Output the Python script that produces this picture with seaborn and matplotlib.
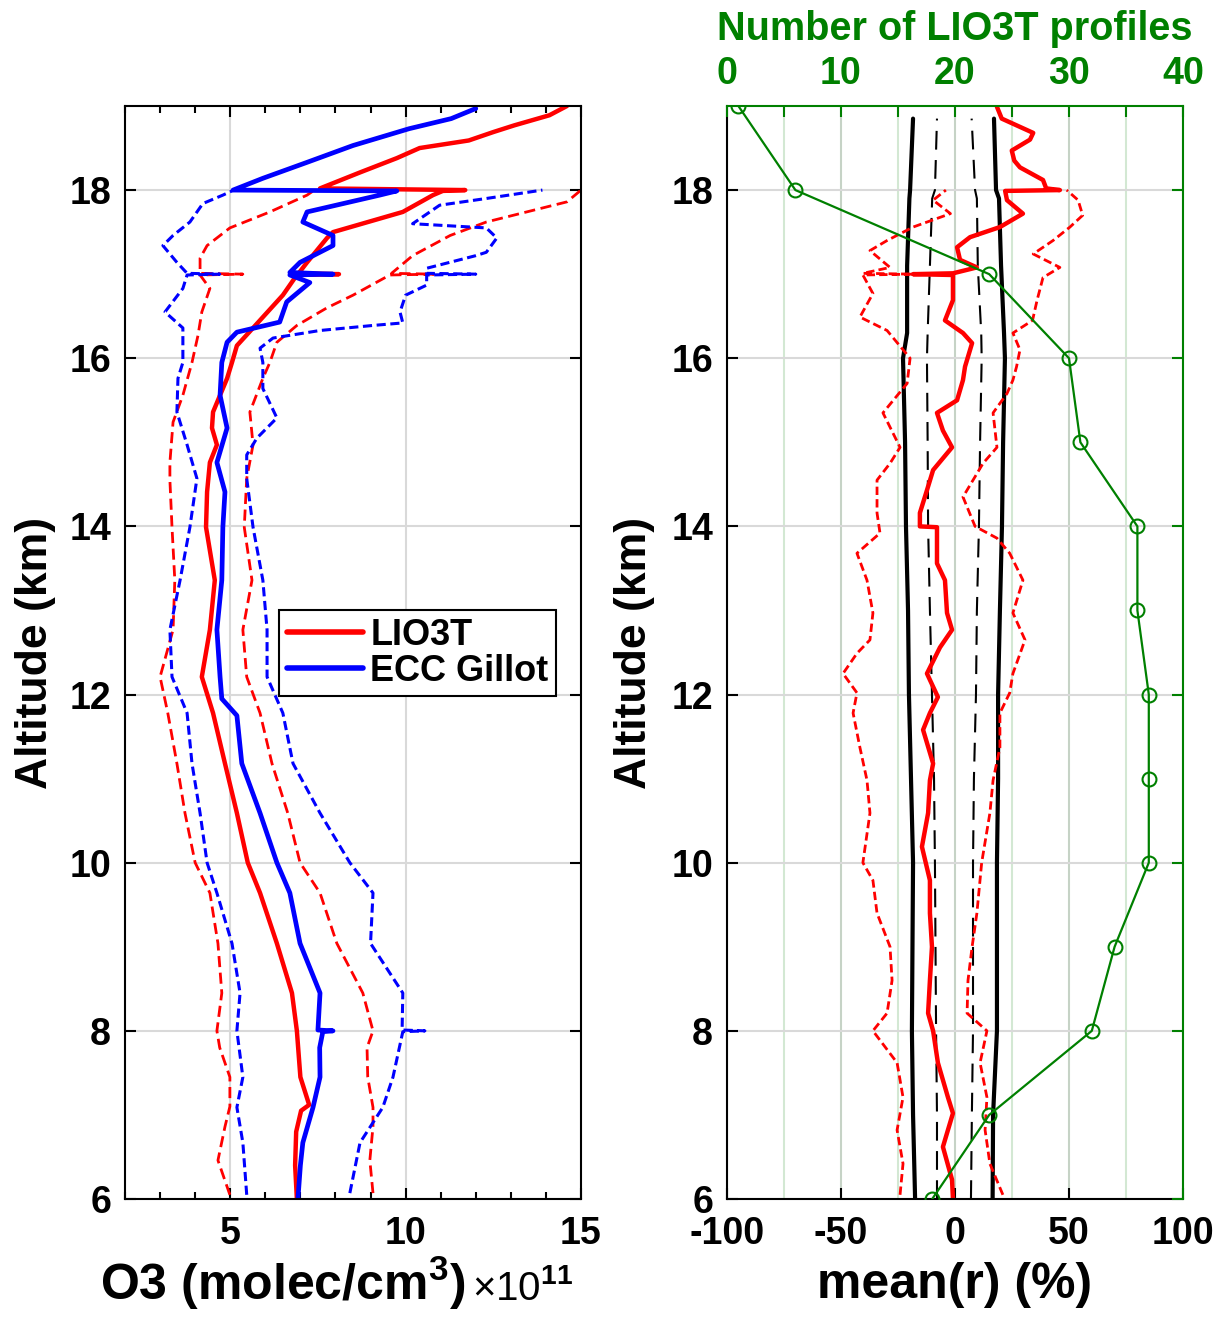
import numpy as np
import seaborn as sns
import matplotlib
matplotlib.use("Agg")
from matplotlib import pyplot as plt
from matplotlib.ticker import MultipleLocator

# LEFT PANEL DATA : O3 number density (x 1e11 molec/cm3) vs altitude (km)

lio3t_alt = [6.0, 6.4, 6.8, 7.05, 7.12, 7.45, 8.0, 8.45, 9.04, 9.64, 10.0, 10.59, 11.18, 11.78,
             12.21, 12.77, 13.36, 13.99, 14.41, 14.76, 14.97, 15.17, 15.36, 15.76, 15.95, 16.15,
             16.36, 16.75, 16.99, 17.0, 17.01, 17.14, 17.43, 17.5, 17.74, 17.94, 17.99, 18.0,
             18.02, 18.21, 18.38, 18.5, 18.59, 18.69, 18.77, 18.89, 19.0]
lio3t_mean = [6.90, 6.85, 6.88, 7.02, 7.25, 7.00, 6.90, 6.76, 6.33, 5.85, 5.50, 5.19, 4.85, 4.51,
              4.19, 4.42, 4.56, 4.31, 4.34, 4.42, 4.62, 4.48, 4.51, 4.91, 5.05, 5.19,
              5.65, 6.50, 6.90, 8.10, 6.95, 7.19, 7.76, 7.93, 9.92, 10.78, 11.06, 11.70,
              7.56, 8.70, 9.75, 10.40, 11.80, 12.50, 13.10, 14.10, 14.60]

ecc_alt = [6.0, 6.4, 6.67, 7.09, 7.45, 7.8, 7.99, 8.0, 8.01, 8.45, 9.04, 9.64, 10.0, 10.59,
           11.18, 11.75, 11.95, 12.21, 12.77, 13.36, 13.99, 14.41, 14.76, 15.17, 15.56, 15.95,
           16.19, 16.31, 16.43, 16.67, 16.9, 16.99, 17.0, 17.02, 17.14, 17.34, 17.46, 17.62,
           17.74, 17.94, 17.99, 18.0, 18.14, 18.33, 18.53, 18.73, 18.85, 18.97]
ecc_mean = [6.93, 7.00, 7.07, 7.36, 7.56, 7.55, 7.64, 7.93, 7.50, 7.56, 6.99, 6.70, 6.33, 5.85,
            5.33, 5.19, 4.76, 4.71, 4.62, 4.76, 4.79, 4.85, 4.62, 4.91, 4.71, 4.76,
            4.91, 5.19, 6.41, 6.61, 7.27, 6.70, 7.93, 6.70, 6.99, 7.93, 7.93, 7.07,
            7.19, 9.26, 9.75, 5.08, 5.93, 7.19, 8.50, 10.10, 11.30, 12.00]

lio3t_lo_alt = [6.05, 6.46, 6.86, 7.1, 7.45, 7.8, 8.0, 8.45, 9.04, 9.64, 10.0, 10.59, 11.18, 11.78,
                12.21, 12.77, 13.36, 13.99, 14.55, 14.76, 15.24, 15.56, 15.95, 16.27, 16.55, 16.83,
                16.99, 17.0, 17.01, 17.19, 17.34, 17.55, 17.74, 17.94, 18.0]
lio3t_lo = [4.99, 4.65, 4.85, 4.99, 4.99, 4.70, 4.62, 4.76, 4.65, 4.42, 4.00, 3.71, 3.48, 3.22,
            3.00, 3.37, 3.42, 3.34, 3.28, 3.28, 3.37, 3.65, 3.91, 4.08, 4.19, 4.42,
            4.14, 5.36, 4.14, 4.14, 4.34, 4.99, 6.13, 7.19, 7.40]

lio3t_hi_alt = [6.07, 6.46, 6.86, 7.09, 7.45, 7.8, 8.0, 8.45, 9.04, 9.64, 10.0, 10.59, 11.18, 11.78,
                12.21, 12.77, 13.36, 13.99, 14.57, 14.97, 15.36, 15.76, 15.95, 16.19, 16.39, 16.6,
                16.75, 16.99, 17.0, 17.01, 17.22, 17.46, 17.62, 17.86, 18.0]
lio3t_hi = [9.07, 8.98, 9.07, 9.07, 8.92, 8.90, 9.07, 8.78, 8.04, 7.56, 6.99, 6.64, 6.19, 5.85,
            5.47, 5.36, 5.62, 5.40, 5.47, 5.65, 5.56, 5.93, 6.13, 6.33, 6.90, 7.76,
            8.50, 9.55, 10.80, 9.60, 10.20, 11.27, 12.30, 14.60, 15.00]

ecc_lo_alt = [6.05, 6.67, 7.09, 7.45, 8.0, 8.45, 9.04, 9.64, 10.0, 10.59, 11.18, 11.78, 12.21,
              12.77, 13.36, 13.99, 14.57, 14.97, 15.36, 15.76, 15.95, 16.36, 16.55, 16.83, 16.99,
              17.0, 17.01, 17.14, 17.34, 17.46, 17.62, 17.84, 17.94, 18.0]
ecc_lo = [5.47, 5.36, 5.19, 5.36, 5.19, 5.28, 5.05, 4.62, 4.34, 4.14, 3.91, 3.77, 3.34,
          3.28, 3.57, 3.85, 4.05, 3.77, 3.48, 3.51, 3.65, 3.65, 3.14, 3.65, 3.77,
          4.70, 3.77, 3.48, 3.08, 3.37, 3.85, 4.22, 4.79, 5.10]

ecc_hi_alt = [6.07, 6.67, 7.09, 7.45, 7.99, 8.0, 8.01, 8.45, 9.04, 9.64, 10.0, 10.59, 11.18, 11.78,
              12.21, 12.77, 13.36, 13.99, 14.57, 14.85, 15.05, 15.29, 15.64, 15.95, 16.12, 16.24,
              16.33, 16.39, 16.42, 16.55, 16.75, 16.87, 16.99, 17.0, 17.01, 17.07, 17.22, 17.26,
              17.43, 17.55, 17.6, 17.82, 17.9, 18.0]
ecc_hi = [8.41, 8.70, 9.35, 9.64, 9.92, 10.55, 9.90, 9.92, 9.00, 9.07, 8.41, 7.56, 6.79, 6.50,
          6.05, 6.05, 5.93, 5.65, 5.47, 5.47, 5.76, 6.33, 5.93, 5.93, 5.85, 6.22,
          7.56, 9.07, 9.92, 9.84, 10.00, 10.60, 10.60, 12.00, 10.60, 10.60, 12.00, 12.30,
          12.60, 12.30, 10.20, 10.97, 12.30, 13.90]

# RIGHT PANEL DATA : relative difference mean(r) (%)

band_alt = [6.0, 7.0, 8.0, 10.0, 11.0, 12.0, 13.0, 14.0, 15.0, 16.0, 16.3, 17.1, 17.9, 18.0, 18.85]
band_lo = [-17.5, -18.4, -18.9, -18.4, -19.3, -20.2, -20.6, -21.5, -21.9, -22.8, -21.0, -21.0,
           -20.0, -19.7, -18.4]
band_hi = [16.5, 16.7, 18.4, 18.4, 18.9, 18.9, 19.7, 20.6, 21.1, 21.9, 21.5, 20.2, 19.3, 18.0, 17.1]
inner_lo = [-7.9, -7.9, -8.3, -8.8, -9.2, -10.1, -11.0, -11.8, -12.0, -12.3, -12.0, -11.0,
            -10.0, -8.8, -7.9]
inner_hi = [7.0, 7.4, 7.9, 7.9, 8.3, 9.2, 9.6, 10.5, 11.0, 11.7, 11.5, 10.0, 9.6, 8.8, 7.3]

r_alt = [6.0, 6.23, 6.62, 7.02, 7.21, 7.62, 8.0, 8.21, 8.6, 9.0, 9.4, 9.79, 10.19, 10.59, 10.98,
         11.18, 11.58, 11.78, 11.97, 12.25, 12.56, 12.77, 12.97, 13.36, 13.56, 13.75, 13.99, 14.0,
         14.16, 14.43, 14.67, 14.94, 15.14, 15.35, 15.5, 15.74, 15.9, 16.18, 16.3, 16.45, 16.69,
         16.99, 17.0, 17.01, 17.08, 17.17, 17.32, 17.44, 17.56, 17.72, 17.88, 17.99, 18.0, 18.02,
         18.12, 18.27, 18.35, 18.47, 18.6, 18.68, 18.85, 18.99]
r_mean = [-0.9, -1.3, -5.3, -0.9, -3.1, -7.5, -9.6, -11.8, -11.0, -10.1, -11.0, -11.0, -14.5, -11.8,
          -11.0, -9.6, -14.0, -11.0, -7.5, -12.3, -6.6, -1.3, -3.5, -4.4, -7.9, -7.9, -7.9, -15.4,
          -15.4, -12.3, -9.6, -1.3, -5.3, -7.9, 0.9, 3.5, 4.4, 7.5, 3.5, -4.4, -0.9,
          -0.9, -18.4, -0.9, 9.6, 2.2, 0.9, 6.6, 19.7, 29.8, 22.8, 22.0, 46.0, 40.0,
          38.6, 28.5, 26.0, 24.9, 32.9, 34.3, 20.5, 18.4]

r_lo_alt = [6.05, 6.42, 6.82, 7.21, 7.62, 8.0, 8.21, 8.6, 9.0, 9.4, 9.79, 10.0, 10.59, 10.98,
            11.37, 11.78, 12.02, 12.25, 12.49, 12.65, 12.97, 13.36, 13.68, 13.92, 14.16, 14.55,
            14.75, 14.94, 15.35, 15.7, 16.0, 16.33, 16.49, 16.77, 16.99, 17.0, 17.01, 17.08,
            17.28, 17.4, 17.56, 17.72, 17.88, 18.0]
r_lo = [-24.1, -22.8, -25.4, -22.8, -25.4, -36.0, -29.8, -27.6, -28.5, -34.2, -36.0, -40.4, -37.3,
        -38.6, -41.7, -44.7, -43.0, -49.1, -43.0, -37.3, -36.0, -38.6, -43.0, -32.9, -34.2, -34.2,
        -28.5, -24.1, -31.6, -21.0, -19.7, -29.8, -41.7, -36.0, -40.4, -18.4, -40.4, -28.5,
        -37.3, -29.8, -18.4, -2.0, -9.6, -4.0]

r_hi_alt = [6.05, 6.42, 6.82, 7.21, 7.62, 8.0, 8.21, 8.6, 9.0, 9.4, 10.0, 10.59, 10.98, 11.37,
            11.78, 12.02, 12.25, 12.65, 12.97, 13.36, 13.68, 13.86, 14.0, 14.35, 14.75, 14.94,
            15.35, 15.58, 15.74, 15.9, 16.1, 16.3, 16.45, 16.69, 16.96, 17.08, 17.24, 17.4,
            17.56, 17.7, 17.88, 18.0]
r_hi = [21.0, 15.3, 13.2, 14.0, 11.0, 14.0, 5.3, 5.7, 7.5, 9.6, 11.7, 15.3, 16.7, 19.7,
        19.7, 24.0, 25.4, 30.7, 25.4, 29.8, 24.0, 18.4, 8.8, 3.5, 12.3, 18.4,
        16.7, 22.8, 25.4, 27.0, 28.5, 25.4, 34.0, 36.0, 38.6, 46.0, 34.3, 43.0,
        50.4, 56.0, 54.0, 49.0]

prof_alt = [6, 7, 8, 9, 10, 11, 12, 13, 14, 15, 16, 17, 18, 19]
n_profiles = [18, 23, 32, 34, 37, 37, 37, 36, 36, 31, 30, 23, 6, 1]

# STYLE

GREEN = '#008000'
sns.set_style('ticks', {'axes.edgecolor': 'black', 'xtick.color': 'black', 'ytick.color': 'black',
                        'text.color': 'black', 'axes.labelcolor': 'black',
                        'xtick.direction': 'in', 'ytick.direction': 'in'})
plt.rcParams['font.family'] = ['Liberation Sans', 'DejaVu Sans']
plt.rcParams['font.weight'] = 'bold'
plt.rcParams['axes.labelweight'] = 'bold'
plt.rcParams['axes.unicode_minus'] = False
plt.rcParams['mathtext.fontset'] = 'custom'
plt.rcParams['mathtext.rm'] = 'Liberation Sans'
plt.rcParams['mathtext.bf'] = 'Liberation Sans:bold'
plt.rcParams['mathtext.it'] = 'Liberation Sans:italic'

fig = plt.figure(figsize=(12.26, 13.22), dpi=100)
ax1 = fig.add_axes([125 / 1226, 123 / 1322, 456 / 1226, 1093 / 1322])
ax2 = fig.add_axes([727 / 1226, 123 / 1322, 456 / 1226, 1093 / 1322])

line_kw = dict(sort=False, estimator=None)

# LEFT PANEL

sns.lineplot(x=lio3t_lo, y=lio3t_lo_alt, ax=ax1, color='red', lw=2, linestyle=(0, (4, 2)), **line_kw)
sns.lineplot(x=lio3t_hi, y=lio3t_hi_alt, ax=ax1, color='red', lw=2, linestyle=(0, (4, 2)), **line_kw)
sns.lineplot(x=ecc_lo, y=ecc_lo_alt, ax=ax1, color='blue', lw=2.2, linestyle=(0, (3, 1.5)), **line_kw)
sns.lineplot(x=ecc_hi, y=ecc_hi_alt, ax=ax1, color='blue', lw=2.2, linestyle=(0, (3, 1.5)), **line_kw)
sns.lineplot(x=lio3t_mean, y=lio3t_alt, ax=ax1, color='red', lw=3.2, label='LIO3T', **line_kw)
sns.lineplot(x=ecc_mean, y=ecc_alt, ax=ax1, color='blue', lw=3.4, label='ECC Gillot', **line_kw)

ax1.set_xlim(2, 15)
ax1.set_ylim(6, 19)
ax1.set_xticks([5, 10, 15])
ax1.xaxis.set_minor_locator(MultipleLocator(1))
ax1.set_yticks(range(6, 20, 2))
ax1.tick_params(which='both', direction='in', top=True, right=True, width=1.5, labelsize=27)
ax1.tick_params(which='major', length=8)
ax1.tick_params(which='minor', length=5)
ax1.tick_params(axis='x', pad=12)
ax1.tick_params(axis='y', pad=10)
ax1.grid(True, which='major', color='#d9d9d9', lw=1.5)
ax1.set_axisbelow(True)
for s in ax1.spines.values():
    s.set_linewidth(1.5)

ax1.set_ylabel('Altitude (km)', fontsize=32)
ax1.yaxis.set_label_coords(-0.197, 0.5)
ax1.yaxis.label.set_va('center')
ax1.set_xlabel('O3 (molec/cm$^{\\mathbf{3}}$)', fontsize=36)
ax1.xaxis.set_label_coords(0.7456, -0.0924)
ax1.xaxis.label.set_ha('right')
ax1.xaxis.label.set_va('baseline')
ax1.text(0.761, -0.0924, '\u00d710$^{\\mathrm{11}}$', transform=ax1.transAxes, fontsize=29,
         fontweight='normal', ha='left', va='baseline')

leg = ax1.legend(loc='upper left', bbox_to_anchor=(0.338, 0.539), fontsize=26, frameon=True,
                 fancybox=False, edgecolor='black', framealpha=1, handlelength=2.1,
                 handletextpad=0.2, borderpad=0.22, labelspacing=0.02, borderaxespad=0)
leg.get_frame().set_linewidth(1.5)
for h in leg.get_lines():
    h.set_linewidth(4)

# RIGHT PANEL

sns.lineplot(x=band_lo, y=band_alt, ax=ax2, color='black', lw=3, **line_kw)
sns.lineplot(x=band_hi, y=band_alt, ax=ax2, color='black', lw=3, **line_kw)
sns.lineplot(x=inner_lo, y=band_alt, ax=ax2, color='black', lw=1.5, linestyle=(0, (9, 5)), **line_kw)
sns.lineplot(x=inner_hi, y=band_alt, ax=ax2, color='black', lw=1.5, linestyle=(0, (9, 5)), **line_kw)
sns.lineplot(x=r_lo, y=r_lo_alt, ax=ax2, color='red', lw=2, linestyle=(0, (3, 1.5)), **line_kw)
sns.lineplot(x=r_hi, y=r_hi_alt, ax=ax2, color='red', lw=2, linestyle=(0, (3, 1.5)), **line_kw)
sns.lineplot(x=r_mean, y=r_alt, ax=ax2, color='red', lw=3.2, **line_kw)

ax2.set_xlim(-100, 100)
ax2.set_ylim(6, 19)
ax2.set_xticks([-100, -50, 0, 50, 100])
ax2.xaxis.set_minor_locator(MultipleLocator(25))
ax2.set_yticks(range(6, 20, 2))
ax2.tick_params(which='both', direction='in', width=1.5, labelsize=27, length=8)
ax2.tick_params(axis='x', which='minor', length=0)
ax2.tick_params(axis='x', pad=12)
ax2.tick_params(axis='y', pad=10, right=False)
ax2.grid(True, axis='x', which='minor', color='#d3e8d3', lw=1.5)
ax2.grid(True, axis='x', which='major', color='#c6d3c6', lw=1.5)
ax2.grid(True, axis='y', which='major', color='#d9d9d9', lw=1.5)
ax2.set_axisbelow(True)
ax2.spines['top'].set_visible(False)
ax2.spines['right'].set_visible(False)
for s in ax2.spines.values():
    s.set_linewidth(1.5)

ax2.set_ylabel('Altitude (km)', fontsize=32)
ax2.yaxis.set_label_coords(-0.202, 0.5)
ax2.yaxis.label.set_va('center')
ax2.set_xlabel('mean(r) (%)', fontsize=36)
ax2.xaxis.set_label_coords(0.5, -0.0906)
ax2.xaxis.label.set_va('baseline')

# number of profiles on top axis
ax2t = ax2.twiny()
sns.lineplot(x=n_profiles, y=prof_alt, ax=ax2t, color=GREEN, lw=1.6, marker='o', markersize=10,
             markerfacecolor='none', markeredgecolor=GREEN, markeredgewidth=1.5, **line_kw)
ax2t.set_xlim(0, 40)
ax2t.set_ylim(6, 19)
ax2t.xaxis.set_major_locator(MultipleLocator(10))
ax2t.xaxis.set_minor_locator(MultipleLocator(5))
ax2t.tick_params(axis='x', which='both', direction='in', length=8, width=1.5, colors=GREEN,
                 labelsize=27, pad=10)
ax2t.yaxis.set_visible(True)
ax2t.yaxis.tick_right()
ax2t.tick_params(axis='y', which='both', direction='in', length=8, width=1.5, colors=GREEN,
                 labelleft=False, labelright=False, left=False, right=True)
ax2t.set_ylabel('')
ax2t.spines['left'].set_visible(False)
ax2t.spines['bottom'].set_visible(False)
ax2t.spines['top'].set_color(GREEN)
ax2t.spines['right'].set_color(GREEN)
ax2t.spines['top'].set_linewidth(1.5)
ax2t.spines['right'].set_linewidth(1.5)
ax2t.set_xlabel('Number of LIO3T profiles', fontsize=28.5, color=GREEN)
ax2t.xaxis.set_label_coords(0.5, 1.0604)
ax2t.xaxis.label.set_va('baseline')

plt.savefig('out.png', dpi=100)
